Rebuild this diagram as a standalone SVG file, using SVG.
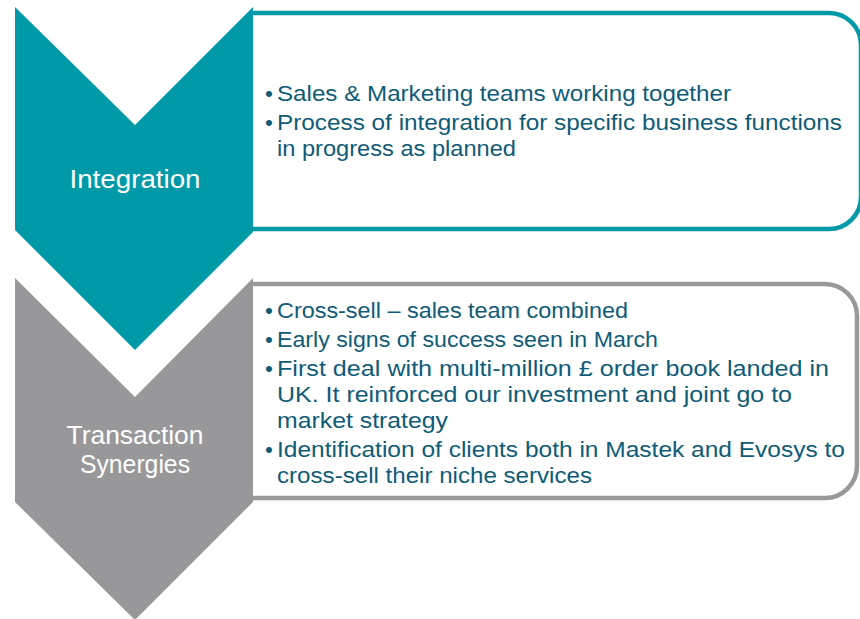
<svg xmlns="http://www.w3.org/2000/svg" width="860" height="619" viewBox="0 0 860 619">
<style>
.body{font-family:"Liberation Sans",Arial,sans-serif;font-size:22.5px;fill:#0F5B78}
.lbl{font-family:"Liberation Sans",Arial,sans-serif;font-size:25px;fill:#FFFFFF;text-anchor:middle}
</style>
<rect width="860" height="619" fill="#FFFFFF"/>
<g id="box-integration">
<path d="M253,13 H829 A32,32 0 0 1 861,45 V197 A32,32 0 0 1 829,229 H253" fill="#FFFFFF" stroke="#0099A7" stroke-width="4.5"/>
<text class="body" x="265" y="101">•</text>
<text class="body" x="277" y="101" textLength="454" lengthAdjust="spacingAndGlyphs">Sales &amp; Marketing teams working together</text>
<text class="body" x="265" y="130">•</text>
<text class="body" x="277" y="130" textLength="565" lengthAdjust="spacingAndGlyphs">Process of integration for specific business functions</text>
<text class="body" x="277" y="156" textLength="239" lengthAdjust="spacingAndGlyphs">in progress as planned</text>
</g>
<g id="box-synergies">
<path d="M253,284 H825 A32,32 0 0 1 857,316 V466 A32,32 0 0 1 825,498 H253" fill="#FFFFFF" stroke="#999999" stroke-width="4.5"/>
<text class="body" x="265" y="318">•</text>
<text class="body" x="277" y="318" textLength="351" lengthAdjust="spacingAndGlyphs">Cross-sell – sales team combined</text>
<text class="body" x="265" y="347">•</text>
<text class="body" x="277" y="347" textLength="381" lengthAdjust="spacingAndGlyphs">Early signs of success seen in March</text>
<text class="body" x="265" y="376">•</text>
<text class="body" x="277" y="376" textLength="552" lengthAdjust="spacingAndGlyphs">First deal with multi-million £ order book landed in</text>
<text class="body" x="277" y="402" textLength="515" lengthAdjust="spacingAndGlyphs">UK. It reinforced our investment and joint go to</text>
<text class="body" x="277" y="428" textLength="171" lengthAdjust="spacingAndGlyphs">market strategy</text>
<text class="body" x="265" y="457">•</text>
<text class="body" x="277" y="457" textLength="568" lengthAdjust="spacingAndGlyphs">Identification of clients both in Mastek and Evosys to</text>
<text class="body" x="277" y="483" textLength="315" lengthAdjust="spacingAndGlyphs">cross-sell their niche services</text>
</g>
<g id="chevron-integration">
<polygon points="15,7 135,125 253,7 253,232 135,350 15,230" fill="#0099A7"/>
<text class="lbl" x="135" y="188" textLength="131" lengthAdjust="spacingAndGlyphs">Integration</text>
</g>
<g id="chevron-synergies">
<polygon points="15,278 135,397 253,278 253,502 135,620 15,502" fill="#98989A"/>
<text class="lbl" x="135" y="444" textLength="137" lengthAdjust="spacingAndGlyphs">Transaction</text>
<text class="lbl" x="135" y="473" textLength="110" lengthAdjust="spacingAndGlyphs">Synergies</text>
</g>
<g id="connectors"></g>
</svg>
